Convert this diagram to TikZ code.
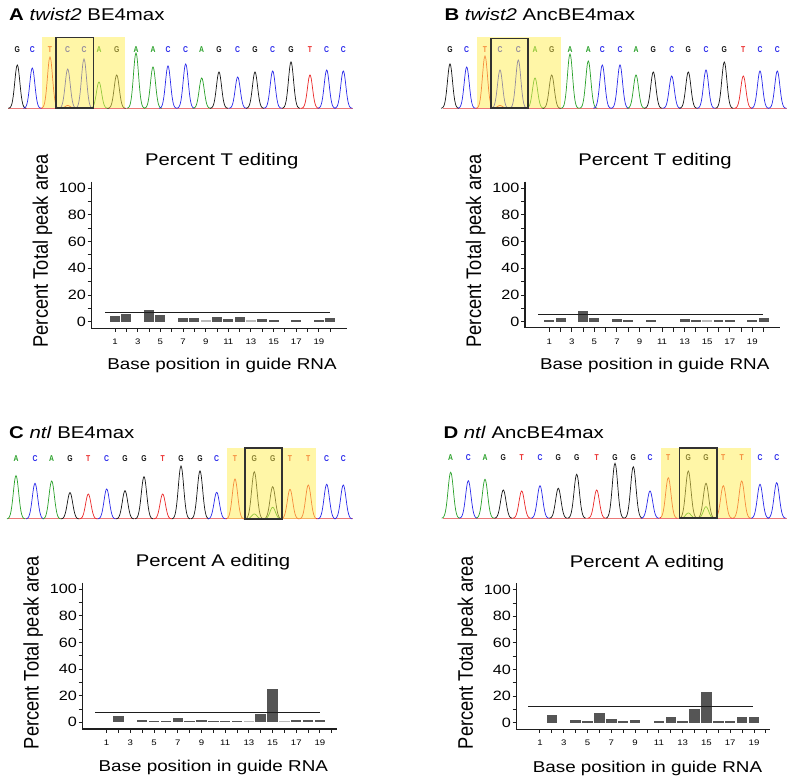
\documentclass[tikz,border=0pt]{standalone}
\usepackage{graphicx}
\usepackage{fontspec}
\setmainfont[FakeStretch=1.2]{Liberation Sans}
\newfontfamily\plainsans{Liberation Sans}
\newfontfamily\seqfont[FakeStretch=0.8]{Liberation Sans}
\definecolor{cG}{RGB}{20,20,20}
\definecolor{cC}{RGB}{40,40,235}
\definecolor{cA}{RGB}{40,160,40}
\definecolor{cT}{RGB}{235,40,40}
\definecolor{hl}{RGB}{255,238,80}
\definecolor{bard}{RGB}{85,85,85}
\definecolor{barl}{RGB}{185,185,185}
\definecolor{axc}{RGB}{30,30,30}
\definecolor{frm}{RGB}{50,50,50}
\definecolor{basec}{RGB}{235,120,120}
\tikzset{
 pk/.style={line width=0.7pt},
 seq/.style={font=\seqfont\bfseries\fontsize{8.5}{9}\selectfont, inner sep=0pt},
 ptitle/.style={font=\fontsize{17}{20}\selectfont, anchor=base west, inner sep=0pt},
 ctitle/.style={font=\fontsize{16.9}{20}\selectfont, anchor=base, inner sep=0pt},
 xtitle/.style={font=\fontsize{15.7}{19}\selectfont, anchor=base, inner sep=0pt},
 ytitle/.style={font=\plainsans\fontsize{18.3}{20}\selectfont, rotate=90, inner sep=0pt},
 ylab/.style={font=\fontsize{13.5}{15}\selectfont, anchor=east, inner sep=0pt},
 xlab/.style={font=\fontsize{8}{9}\selectfont, inner sep=0pt},
 axisln/.style={line width=1.2pt, draw=axc},
 tickln/.style={line width=1pt, draw=axc},
 refln/.style={line width=1.2pt, draw=axc},
 hlbox/.style={fill=hl, opacity=0.5},
 frame/.style={draw=frm, line width=1.6pt},
 basel/.style={draw=basec, line width=1pt},
}
\def\pw{3.6}
\newcommand{\pk}[4]{\draw[pk,#4] plot[domain=-9:9,samples=31,smooth] ({#2+\x},{#1-(#1-#3)*exp(-(\x/\pw)*(\x/\pw))});}
\newcommand{\drawaxes}{%
 \draw[axisln] (\cAX,\cYT) -- (\cAX,\cXY) -- (\cXR,\cXY);
 \foreach \v in {0,10,...,100}{\draw[tickln] ({\cAX-4},{\cYZ-\cYU*\v}) -- (\cAX,{\cYZ-\cYU*\v});}
 \foreach \v in {0,20,...,100}{\node[ylab] (\cid y\v) at ({\cAX-5.5},{\cYZ-\cYU*\v}) {\v};}
 \foreach \p in {1,...,20}{\draw[tickln] ({\cPZ+\cSP*\p},\cXY) -- ({\cPZ+\cSP*\p},{\cXY+4});}
 \foreach \p in {1,3,...,19}{\node[xlab] (\cid x\p) at ({\cPZ+\cSP*\p},\cXL) {\p};}
}
\newcommand{\bars}[1]{\foreach \p/\v/\c in {#1}{\fill[\c] ({\cPZ+\cSP*\p-0.44*\cSP},\cYZ) rectangle ({\cPZ+\cSP*\p+0.44*\cSP},{\cYZ-\cYU*max(\v,1)});}}
\begin{document}
\begin{tikzpicture}[x=1pt,y=-1pt]
\useasboundingbox[fill=white] (0,0) rectangle (793,783);
%% ---------------- Panel A chromatogram
\node[ptitle] (tA) at (9,21) {\textbf{A} \textit{twist2} BE4max};
\draw[basel] (8.3,108.3) -- (353,108.3);
\foreach \xx/\tp/\cc/\ll [count=\i] in {17.3/65/cG/G, 32.3/68/cC/C, 50/57/cT/T, 67.7/69/cC/C, 84/59/cC/C, 99/82/cA/A, 116.7/75/cG/G, 136/53/cA/A, 153/67/cA/A, 168/66/cC/C, 185.7/64/cC/C, 201.7/78/cA/A, 219/72/cG/G, 237.7/77/cC/C, 255/72/cG/G, 272.7/71/cC/C, 291/62/cG/G, 310/75/cT/T, 326.7/70/cC/C, 343.3/71/cC/C}{
  \pk{108.3}{\xx}{\tp}{\cc}
  \node[seq,text=\cc] (sA\i) at (\xx,50) {\ll};
}
\pk{108.3}{67.7}{105.5}{cT}
\fill[hlbox] (41.7,37.3) rectangle (125,108.3);
\draw[frame] (56,37.7) rectangle (93.3,108.3);
%% ---------------- Panel B chromatogram
\node[ptitle] (tB) at (444.3,21) {\textbf{B} \textit{twist2} AncBE4max};
\draw[basel] (442.7,108.3) -- (786.7,108.3);
\foreach \xx/\tp/\cc/\ll [count=\i] in {450/64/cG/G, 466.7/67/cC/C, 485/56/cT/T, 500/70/cC/C, 518.3/60/cC/C, 535/78/cA/A, 551.7/75/cG/G, 570/54/cA/A, 588.3/61/cA/A, 602.3/65/cC/C, 620/65/cC/C, 636/75/cA/A, 653.3/72/cG/G, 671.7/76/cC/C, 688.3/72/cG/G, 706/70/cC/C, 724.3/62/cG/G, 743.3/76/cT/T, 760/71/cC/C, 777.3/71/cC/C}{
  \pk{108.3}{\xx}{\tp}{\cc}
  \node[seq,text=\cc] (sB\i) at (\xx,50) {\ll};
}
\pk{108.3}{500}{105.5}{cT}
\fill[hlbox] (476.7,37.3) rectangle (560.7,108.3);
\draw[frame] (490.7,38.5) rectangle (527.7,108.3);
%% ---------------- Panel C chromatogram
\def\pw{3.8}
\node[ptitle] (tC) at (9,438.3) {\textbf{C} \textit{ntl} BE4max};
\draw[basel] (8.3,519) -- (353.3,519);
\foreach \xx/\tp/\cc/\ll [count=\i] in {16/475.7/cA/A, 35/483.3/cC/C, 51.7/481/cA/A, 70/492.7/cG/G, 88.3/494/cT/T, 106.7/489/cC/C, 125/490.7/cG/G, 144/476.7/cG/G, 162.7/494/cT/T, 181/466/cG/G, 200/471/cG/G, 216.7/492.3/cC/C, 235/479/cT/T, 254.3/471.7/cG/G, 272.7/486.7/cG/G, 290/489.3/cT/T, 308.3/485/cT/T, 326.7/484.3/cC/C, 343.3/485/cC/C}{
  \pk{519}{\xx}{\tp}{\cc}
  \node[seq,text=\cc] (sC\i) at (\xx,458.3) {\ll};
}
\pk{519}{254.3}{514}{cA}
\pk{519}{272.7}{507.3}{cA}
\fill[hlbox] (226.7,448.3) rectangle (316,519);
\draw[frame] (245,448.3) rectangle (281.7,519);
%% ---------------- Panel D chromatogram
\node[ptitle] (tD) at (443.3,438.3) {\textbf{D} \textit{ntl} AncBE4max};
\draw[basel] (442.7,518.3) -- (786.7,518.3);
\foreach \xx/\tp/\cc/\ll [count=\i] in {450.7/472.3/cA/A, 468.3/480.7/cC/C, 485/479.3/cA/A, 503.3/490/cG/G, 521.7/491/cT/T, 540/485.7/cC/C, 558.3/488.3/cG/G, 576.7/474.3/cG/G, 596.7/490/cT/T, 615/463.3/cG/G, 633.3/466.7/cG/G, 650/491/cC/C, 668.3/477.7/cT/T, 688.3/471/cG/G, 706/483.3/cG/G, 723.3/485.7/cT/T, 741.7/481/cT/T, 760/484.3/cC/C, 776.7/482.7/cC/C}{
  \pk{518.3}{\xx}{\tp}{\cc}
  \node[seq,text=\cc] (sD\i) at (\xx,457.3) {\ll};
}
\pk{518.3}{688.3}{513}{cA}
\pk{518.3}{706}{506.7}{cA}
\fill[hlbox] (661,448.3) rectangle (750.7,518.3);
\draw[frame] (679.3,448.3) rectangle (716.7,518.3);
%% ---------------- Chart A
\def\cid{A}\def\cAX{91.7}\def\cXY{328.3}\def\cYZ{321.7}\def\cYU{1.334}\def\cPZ{103.7}\def\cSP{11.33}\def\cXR{346.7}\def\cYT{181.7}\def\cXL{341.7}
\bars{1/4/bard, 2/5.5/bard, 4/9/bard, 5/5/bard, 7/3/bard, 8/3/bard, 9/1/barl, 10/3.5/bard, 11/2/bard, 12/3.5/bard, 13/1/barl, 14/2/bard, 15/1/bard, 17/1/bard, 19/1/bard, 20/2.5/bard}
\drawaxes
\coordinate (Al1) at (105,{\cYZ-\cYU*7});
\coordinate (Al2) at (330,{\cYZ-\cYU*7});
\draw[refln] (Al1) -- (Al2);
\node[ctitle] (ctA) at (221.7,166) {Percent T editing};
\node[xtitle] (xtA) at (222,370) {Base position in guide RNA};
\node[ytitle] (ytA) at (42.5,250.8) {\scalebox{1}[1.15]{Percent Total peak area}};
%% ---------------- Chart B
\def\cid{B}\def\cAX{525}\def\cXY{327.7}\def\cYZ{321.7}\def\cYU{1.334}\def\cPZ{538}\def\cSP{11.28}\def\cXR{780}\def\cYT{181.7}\def\cXL{341.7}
\bars{1/1/bard, 2/3/bard, 4/8/bard, 5/3/bard, 7/2/bard, 8/1/bard, 10/1/bard, 13/2/bard, 14/1/bard, 15/0.5/barl, 16/0.8/bard, 17/1.5/bard, 19/1/bard, 20/2.5/bard}
\drawaxes
\coordinate (Bl1) at (538.3,{\cYZ-\cYU*5.5});
\coordinate (Bl2) at (762.7,{\cYZ-\cYU*5.5});
\draw[refln] (Bl1) -- (Bl2);
\node[ctitle] (ctB) at (655,166) {Percent T editing};
\node[xtitle] (xtB) at (654.7,370) {Base position in guide RNA};
\node[ytitle] (ytB) at (475.8,250.8) {\scalebox{1}[1.15]{Percent Total peak area}};
%% ---------------- Chart C
\def\cid{C}\def\cAX{82.7}\def\cXY{729}\def\cYZ{722.3}\def\cYU{1.33}\def\cPZ{94.8}\def\cSP{11.85}\def\cXR{336.7}\def\cYT{582.7}\def\cXL{742.3}
\bars{2/4.5/bard, 4/2/bard, 5/1/bard, 6/1/bard, 7/3/bard, 8/0.6/bard, 9/1.5/bard, 10/1/bard, 11/1/bard, 12/1/bard, 13/0.5/barl, 14/6/bard, 15/25/bard, 16/0.5/barl, 17/1.5/bard, 18/1.5/bard, 19/2/bard}
\drawaxes
\coordinate (Cl1) at (95,{\cYZ-\cYU*7.5});
\coordinate (Cl2) at (320,{\cYZ-\cYU*7.5});
\draw[refln] (Cl1) -- (Cl2);
\node[ctitle] (ctC) at (213,566.7) {Percent A editing};
\node[xtitle] (xtC) at (213.3,771.7) {Base position in guide RNA};
\node[ytitle] (ytC) at (33.3,652.5) {\scalebox{1}[1.15]{Percent Total peak area}};
%% ---------------- Chart D
\def\cid{D}\def\cAX{516.7}\def\cXY{729.3}\def\cYZ{722.7}\def\cYU{1.33}\def\cPZ{528.1}\def\cSP{11.89}\def\cXR{770}\def\cYT{583}\def\cXL{742.3}
\bars{2/6/bard, 4/2/bard, 5/0.6/bard, 6/7/bard, 7/2.5/bard, 8/1/bard, 9/2/bard, 11/0.6/bard, 12/4.5/bard, 13/1/bard, 14/10/bard, 15/23/bard, 16/0.6/bard, 17/0.6/bard, 18/4.5/bard, 19/4.5/bard}
\drawaxes
\coordinate (Dl1) at (528.3,{\cYZ-\cYU*12});
\coordinate (Dl2) at (753.3,{\cYZ-\cYU*12});
\draw[refln] (Dl1) -- (Dl2);
\node[ctitle] (ctD) at (647,567.7) {Percent A editing};
\node[xtitle] (xtD) at (647.5,772.7) {Base position in guide RNA};
\node[ytitle] (ytD) at (467.5,652.5) {\scalebox{1}[1.15]{Percent Total peak area}};
\end{tikzpicture}
\end{document}
